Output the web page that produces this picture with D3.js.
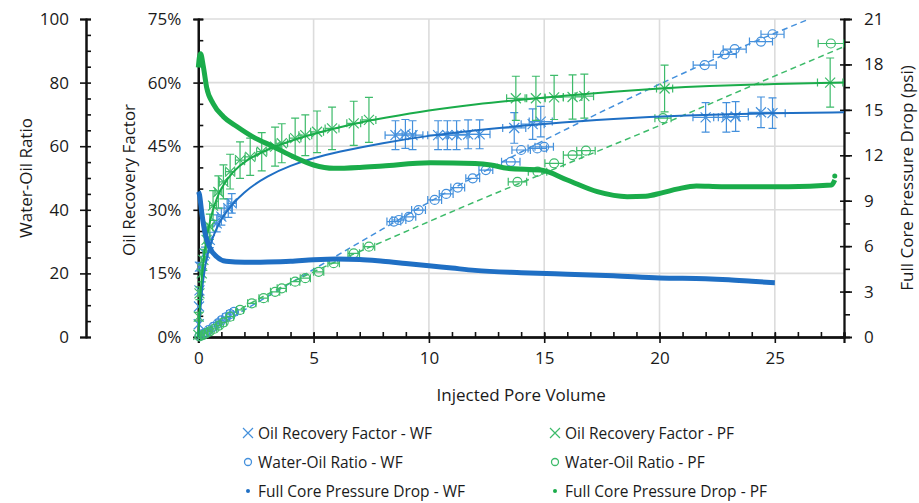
<!DOCTYPE html>
<html>
<head>
<meta charset="utf-8">
<script src="https://cdn.jsdelivr.net/npm/d3@7"></script>
<style>
  body { margin: 0; background: #fff; }
  svg { display: block; font-family: 'Open Sans', sans-serif; }
</style>
</head>
<body>
<svg id="chart"></svg>
<script>
// x tick labels
const pvTicks = [0, 5, 10, 15, 20, 25]

// oil recovery factor points: [pv, %, pv error, % error]
const orfWF = [
  [0.02, 3, 0, 0], [0.03, 7.2, 0, 0], [0.05, 11, 0, 0], [0.07, 16.6, 0.05, 1],
  [0.29, 19.7, 0.08, 1.5], [0.5, 22.9, 0.1, 1.8], [0.8, 26.8, 0.12, 2], [1.0, 28.4, 0.15, 2],
  [1.3, 30.4, 0.18, 2.2], [1.45, 31.5, 0.2, 2.3],
  [8.55, 47.6, 0.45, 3.4], [8.98, 47.9, 0.45, 3.4], [9.29, 47.6, 0.45, 3.4],
  [10.4, 47.6, 0.45, 3.4], [10.8, 47.6, 0.45, 3.4], [11.2, 47.6, 0.45, 3.4],
  [11.7, 47.8, 0.45, 3.4], [12.2, 47.8, 0.45, 3.4],
  [13.7, 49.3, 0.5, 3.6], [14.5, 50.2, 0.5, 3.6], [14.85, 50.8, 0.5, 3.6],
  [22.0, 51.8, 0.55, 3.5], [22.9, 51.8, 0.55, 3.5], [23.3, 52.0, 0.55, 3.5],
  [24.4, 53.0, 0.55, 3.6], [24.9, 52.8, 0.55, 3.6]
]
const orfPF = [
  [0.0, 0.5, 0, 0], [0.02, 4.8, 0, 1], [0.05, 10.3, 0.05, 1.5], [0.15, 15, 0.08, 2],
  [0.22, 18.2, 0.1, 2.5], [0.36, 22.9, 0.1, 3], [0.5, 26, 0.12, 3], [0.64, 31, 0.15, 3.5],
  [0.87, 34.2, 0.15, 3.8], [1.09, 36.6, 0.18, 4], [1.38, 39, 0.2, 4.1], [1.81, 41.7, 0.2, 4.3],
  [2.25, 42.5, 0.22, 4.4], [2.75, 43.7, 0.22, 4.5], [3.33, 44.9, 0.25, 4.6], [3.62, 45.7, 0.25, 4.6],
  [4.2, 46.9, 0.25, 4.7], [4.64, 47.6, 0.28, 4.8], [5.15, 48.4, 0.28, 4.9], [5.8, 49.2, 0.3, 5],
  [6.74, 50.4, 0.3, 5.2], [7.4, 51.2, 0.3, 5.3],
  [13.77, 56.3, 0.4, 5.2], [14.64, 56.3, 0.4, 5.2], [15.43, 56.5, 0.4, 5.2],
  [16.23, 56.6, 0.4, 5.2], [16.74, 56.8, 0.4, 5.2], [20.22, 58.6, 0.35, 5.5], [27.4, 60, 0.55, 5.8]
]

// fitted recovery curves: [pv, %]
const fitWF = [
  [0, 0], [0.2, 15], [0.5, 22], [1, 28.5], [2, 34.5], [3, 38], [4, 40.5], [5, 42.2], [6, 43.6],
  [8, 45.8], [10, 47.5], [12, 48.8], [15, 50.3], [18, 51.5], [21, 52.3], [25, 52.8], [28, 53]
]
const fitPF = [
  [0, 0], [0.1, 12], [0.3, 22], [0.6, 30], [1, 35.5], [1.5, 39], [2, 41.5], [3, 44.3], [4, 46.3],
  [5, 47.9], [6, 49.3], [7, 50.6], [8, 51.6], [10, 53.5], [12, 54.9], [14, 56], [16, 57],
  [18, 57.9], [20, 58.6], [22, 59.2], [25, 59.7], [28, 60]
]

// water-oil ratio points: [pv, wor, pv error]
const worWF = [
  [0.05, 0.3, 0.05], [0.15, 0.8, 0.05], [0.29, 1.2, 0.08], [0.45, 2.2, 0.1], [0.65, 3.2, 0.1],
  [0.85, 4.3, 0.1], [1.0, 5.2, 0.12], [1.2, 6.2, 0.15], [1.38, 7.2, 0.15], [1.55, 7.9, 0.15],
  [8.48, 36.3, 0.3], [8.7, 36.8, 0.3], [9.13, 37.8, 0.3], [9.55, 39.9, 0.3], [10.25, 43.1, 0.3],
  [10.75, 45, 0.3], [11.25, 47, 0.3], [11.9, 49.9, 0.3], [12.47, 52.5, 0.3], [13.55, 55.1, 0.4],
  [14.0, 58.8, 0.4], [14.7, 59.3, 0.4], [15.0, 59.8, 0.4], [21.96, 85.5, 0.5], [22.83, 88.9, 0.5],
  [23.26, 90.5, 0.5], [24.4, 92.9, 0.5], [24.9, 95.2, 0.5]
]
const worPF = [
  [0.05, 0.2, 0.05], [0.2, 0.6, 0.05], [0.35, 1.2, 0.08], [0.5, 1.8, 0.1], [0.7, 2.6, 0.1],
  [0.9, 3.6, 0.1], [1.1, 4.6, 0.12], [1.38, 6.4, 0.15], [1.81, 8.5, 0.15], [2.32, 10.6, 0.18],
  [2.83, 12.2, 0.2], [3.33, 14.2, 0.2], [3.62, 15.3, 0.2], [4.2, 17.4, 0.2], [4.64, 18.5, 0.22],
  [5.22, 20.5, 0.22], [5.87, 23.2, 0.25], [6.74, 26.3, 0.25], [7.4, 28.4, 0.25],
  [13.84, 48.8, 0.4], [14.71, 52.0, 0.4], [15.43, 54.6, 0.4], [16.23, 57.2, 0.4],
  [16.81, 58.6, 0.4], [20.15, 68.8, 0.35], [27.43, 92.3, 0.55]
]

// dashed water-oil ratio trends: [pv, wor]
const trendWF = [[0, 0], [4, 17], [8, 34], [12, 50.5], [16, 65.5], [20, 79.5], [24, 92.5], [26.5, 100]]
const trendPF = [[0, 0.5], [2, 9.5], [5, 20.5], [8, 30], [12, 42.5], [16, 54.5], [20, 66.5], [24, 79], [28, 91.3]]

// full core pressure drop: [pv, psi]
const dpWF = [
  [0, 9.6], [0.05, 9.4], [0.15, 8.2], [0.3, 6.8], [0.5, 5.9], [0.8, 5.3], [1.2, 5.0], [2, 4.93],
  [3, 4.95], [4, 5.0], [5, 5.1], [6, 5.15], [7, 5.12], [8, 5.0], [9, 4.85], [10, 4.7], [11, 4.55],
  [12, 4.4], [14, 4.25], [16, 4.15], [18, 4.05], [20, 3.9], [22, 3.85], [23, 3.78], [24, 3.68], [25, 3.58]
]
const dpPF = [
  [0, 17.8], [0.05, 18.5], [0.1, 18.7], [0.22, 17.85], [0.36, 16.5], [0.65, 15.4], [1.09, 14.55],
  [1.67, 13.9], [2.39, 13.2], [3.26, 12.57], [4.13, 11.9], [5.0, 11.36], [5.87, 11.14], [7, 11.2],
  [8, 11.3], [10.07, 11.5], [12, 11.45], [12.68, 11.36], [13.4, 11.14], [14.86, 11.03], [16.0, 10.37],
  [17.3, 9.6], [18.6, 9.27], [19.4, 9.3], [20.1, 9.52], [20.8, 9.78], [21.6, 9.97], [22.68, 9.93],
  [25.58, 9.93], [27.46, 10.04], [27.6, 10.37]
]

const legendItems = [
  { label: 'Oil Recovery Factor - WF', kind: 'x', color: '#4490dc' },
  { label: 'Oil Recovery Factor - PF', kind: 'x', color: '#3dbb6a' },
  { label: 'Water-Oil Ratio - WF', kind: 'o', color: '#4490dc' },
  { label: 'Water-Oil Ratio - PF', kind: 'o', color: '#3dbb6a' },
  { label: 'Full Core Pressure Drop - WF', kind: 'dot', color: '#1f6fc4' },
  { label: 'Full Core Pressure Drop - PF', kind: 'dot', color: '#1aac4a' }
]

const width = 919
const height = 503
const plotLeft = 198.3, plotRight = 844, plotTop = 19, plotBottom = 337

const blueLine = '#1f6fc4', blueMark = '#4490dc'
const greenLine = '#1aac4a', greenMark = '#3dbb6a'
const ink = '#1a1a1a'

const svg = d3.select('#chart').attr('width', width).attr('height', height)
svg.append('rect').attr('width', width).attr('height', height).attr('fill', '#fff')

const x = d3.scaleLinear().domain([0, 28]).range([plotLeft, plotRight])
const yOil = d3.scaleLinear().domain([0, 75]).range([plotBottom, plotTop])
const yWor = d3.scaleLinear().domain([0, 100]).range([plotBottom, plotTop])
const yDp = d3.scaleLinear().domain([0, 21]).range([plotBottom, plotTop])

// grid
const grid = svg.append('g').attr('stroke', '#dcdcdc').attr('stroke-width', 1.6)
grid.selectAll('line.h').data(d3.range(15, 76, 15)).enter().append('line')
  .attr('x1', plotLeft).attr('x2', plotRight).attr('y1', d => yOil(d)).attr('y2', d => yOil(d))
grid.selectAll('line.v').data(pvTicks.slice(1)).enter().append('line')
  .attr('y1', plotTop).attr('y2', plotBottom).attr('x1', d => x(d)).attr('x2', d => x(d))

function styleAxis(g, w) {
  g.select('.domain').attr('stroke', '#111').attr('stroke-width', w)
  g.selectAll('.tick line').attr('stroke', '#111').attr('stroke-width', 1.6)
  g.selectAll('text').attr('font-size', 17).attr('fill', ink).attr('font-family', "'Open Sans', sans-serif")
}

// water-oil ratio axis
const worX = 86
svg.append('g').attr('transform', `translate(${worX},0)`)
  .call(d3.axisRight(yWor).tickValues(d3.range(0, 101, 5)).tickSize(5).tickFormat(''))
  .call(g => styleAxis(g, 2))
svg.append('g').attr('transform', `translate(${worX},0)`)
  .call(d3.axisLeft(yWor).tickValues(d3.range(0, 101, 20)).tickSize(6).tickPadding(11))
  .call(g => styleAxis(g, 2))

// oil recovery axis
svg.append('g').attr('transform', `translate(${plotLeft},0)`)
  .call(d3.axisRight(yOil).tickValues(d3.range(0, 76, 5)).tickSize(5).tickFormat(''))
  .call(g => styleAxis(g, 2.2))
svg.append('g').attr('transform', `translate(${plotLeft},0)`)
  .call(d3.axisLeft(yOil).tickValues(d3.range(0, 76, 15)).tickSize(5).tickPadding(12).tickFormat(d => d + '%'))
  .call(g => styleAxis(g, 2.2))

// pressure axis
svg.append('g').attr('transform', `translate(${plotRight},0)`)
  .call(d3.axisLeft(yDp).tickValues(d3.range(0, 22, 3)).tickSize(4).tickFormat(''))
  .call(g => styleAxis(g, 1.6))
svg.append('g').attr('transform', `translate(${plotRight},0)`)
  .call(d3.axisRight(yDp).tickValues(d3.range(0, 21.1, 1.5)).tickSize(6).tickFormat(''))
  .call(g => styleAxis(g, 1.6))
svg.append('g').attr('transform', `translate(${plotRight},0)`)
  .call(d3.axisRight(yDp).tickValues(d3.range(0, 22, 3)).tickSize(8).tickPadding(12))
  .call(g => styleAxis(g, 1.6))

// pv axis
svg.append('g').attr('transform', `translate(0,${plotBottom})`)
  .call(d3.axisTop(x).tickValues(d3.range(0, 28, 1)).tickSize(5).tickFormat(''))
  .call(g => styleAxis(g, 2.2))
svg.append('g').attr('transform', `translate(0,${plotBottom})`)
  .call(d3.axisBottom(x).tickValues(pvTicks).tickSize(6).tickPadding(9))
  .call(g => styleAxis(g, 2.2))
svg.append('g').attr('transform', `translate(0,${plotBottom})`)
  .call(d3.axisTop(x).tickValues(pvTicks).tickSize(4).tickFormat(''))
  .call(g => styleAxis(g, 2.2))

// axis titles
const titleFont = 17
svg.append('text').attr('x', (plotLeft + plotRight) / 2).attr('y', 401).attr('text-anchor', 'middle')
  .attr('font-size', titleFont).attr('fill', ink).text('Injected Pore Volume')
svg.append('text').attr('transform', 'translate(32,178) rotate(-90)').attr('text-anchor', 'middle')
  .attr('font-size', titleFont).attr('fill', ink).text('Water-Oil Ratio')
svg.append('text').attr('transform', 'translate(135,180) rotate(-90)').attr('text-anchor', 'middle')
  .attr('font-size', titleFont).attr('fill', ink).text('Oil Recovery Factor')
svg.append('text').attr('transform', 'translate(913,178) rotate(-90)').attr('text-anchor', 'middle')
  .attr('font-size', titleFont).attr('fill', ink).text('Full Core Pressure Drop (psi)')

const plot = svg.append('g')

// dashed WOR trends
const lineOf = (ys, curve) => d3.line().x(d => x(d[0])).y(d => ys(d[1])).curve(curve || d3.curveMonotoneX)
plot.append('path').datum(trendWF).attr('d', lineOf(yWor)).attr('fill', 'none')
  .attr('stroke', blueMark).attr('stroke-width', 1.5).attr('stroke-dasharray', '6,4')
plot.append('path').datum(trendPF).attr('d', lineOf(yWor)).attr('fill', 'none')
  .attr('stroke', greenMark).attr('stroke-width', 1.5).attr('stroke-dasharray', '6,4')

function hBars(g, data, ys, color) {
  const e = data.filter(d => d[2] > 0)
  g.append('g').selectAll('path').data(e).enter().append('path')
    .attr('d', d => {
      const y0 = ys(d[1]), xa = x(d[0] - d[2]), xb = x(d[0] + d[2])
      return `M${xa},${y0}H${xb}M${xa},${y0 - 4}V${y0 + 4}M${xb},${y0 - 4}V${y0 + 4}`
    })
    .attr('fill', 'none').attr('stroke', color).attr('stroke-width', 1.2)
}
function vBars(g, data, ys, color) {
  const e = data.filter(d => d[3] > 0)
  g.append('g').selectAll('path').data(e).enter().append('path')
    .attr('d', d => {
      const x0 = x(d[0]), ya = ys(d[1] - d[3]), yb = ys(d[1] + d[3])
      return `M${x0},${ya}V${yb}M${x0 - 4},${ya}H${x0 + 4}M${x0 - 4},${yb}H${x0 + 4}`
    })
    .attr('fill', 'none').attr('stroke', color).attr('stroke-width', 1.2)
}
function circles(g, data, ys, color) {
  g.append('g').selectAll('circle').data(data).enter().append('circle')
    .attr('cx', d => x(d[0])).attr('cy', d => ys(d[1])).attr('r', 4.5)
    .attr('fill', 'none').attr('stroke', color).attr('stroke-width', 1.2)
}
function crosses(g, data, ys, color) {
  g.append('g').selectAll('path').data(data).enter().append('path')
    .attr('d', d => {
      const cx = x(d[0]), cy = ys(d[1])
      return `M${cx - 5},${cy - 5}L${cx + 5},${cy + 5}M${cx - 5},${cy + 5}L${cx + 5},${cy - 5}`
    })
    .attr('fill', 'none').attr('stroke', color).attr('stroke-width', 1.2)
}

// WOR markers
hBars(plot, worWF, yWor, blueMark)
circles(plot, worWF, yWor, blueMark)
hBars(plot, worPF, yWor, greenMark)
circles(plot, worPF, yWor, greenMark)

// ORF markers
hBars(plot, orfWF, yOil, blueMark)
vBars(plot, orfWF, yOil, blueMark)
crosses(plot, orfWF, yOil, blueMark)
hBars(plot, orfPF, yOil, greenMark)
vBars(plot, orfPF, yOil, greenMark)
crosses(plot, orfPF, yOil, greenMark)

// fitted lines
plot.append('path').datum(fitWF).attr('d', lineOf(yOil, d3.curveBasis)).attr('fill', 'none')
  .attr('stroke', blueLine).attr('stroke-width', 2)
plot.append('path').datum(fitPF).attr('d', lineOf(yOil, d3.curveBasis)).attr('fill', 'none')
  .attr('stroke', greenLine).attr('stroke-width', 2)

// pressure drop
plot.append('path').datum(dpWF).attr('d', lineOf(yDp)).attr('fill', 'none')
  .attr('stroke', blueLine).attr('stroke-width', 5).attr('stroke-linejoin', 'round')
plot.append('path').datum(dpPF).attr('d', lineOf(yDp)).attr('fill', 'none')
  .attr('stroke', greenLine).attr('stroke-width', 5).attr('stroke-linejoin', 'round')
const lastPF = dpPF[dpPF.length - 1]
plot.append('circle').attr('cx', x(lastPF[0])).attr('cy', yDp(lastPF[1]) - 4)
  .attr('r', 2.5).attr('fill', greenLine)

// legend
const legend = svg.append('g')
const colX = [248, 555]
const rowY = [433, 462, 491]
legendItems.forEach((d, i) => {
  const lx = colX[i % 2], ly = rowY[Math.floor(i / 2)]
  const g = legend.append('g').attr('transform', `translate(${lx},${ly})`)
  if (d.kind === 'x') {
    g.append('path').attr('d', 'M-5,-5L5,5M-5,5L5,-5').attr('stroke', d.color).attr('stroke-width', 1.2).attr('fill', 'none')
  } else if (d.kind === 'o') {
    g.append('circle').attr('r', 3.5).attr('fill', 'none').attr('stroke', d.color).attr('stroke-width', 1.3)
  } else {
    g.append('circle').attr('r', 2).attr('fill', d.color)
  }
  g.append('text').attr('x', 10).attr('y', 5.5).attr('font-size', 15.5).attr('fill', ink).text(d.label)
})
</script>
</body>
</html>
